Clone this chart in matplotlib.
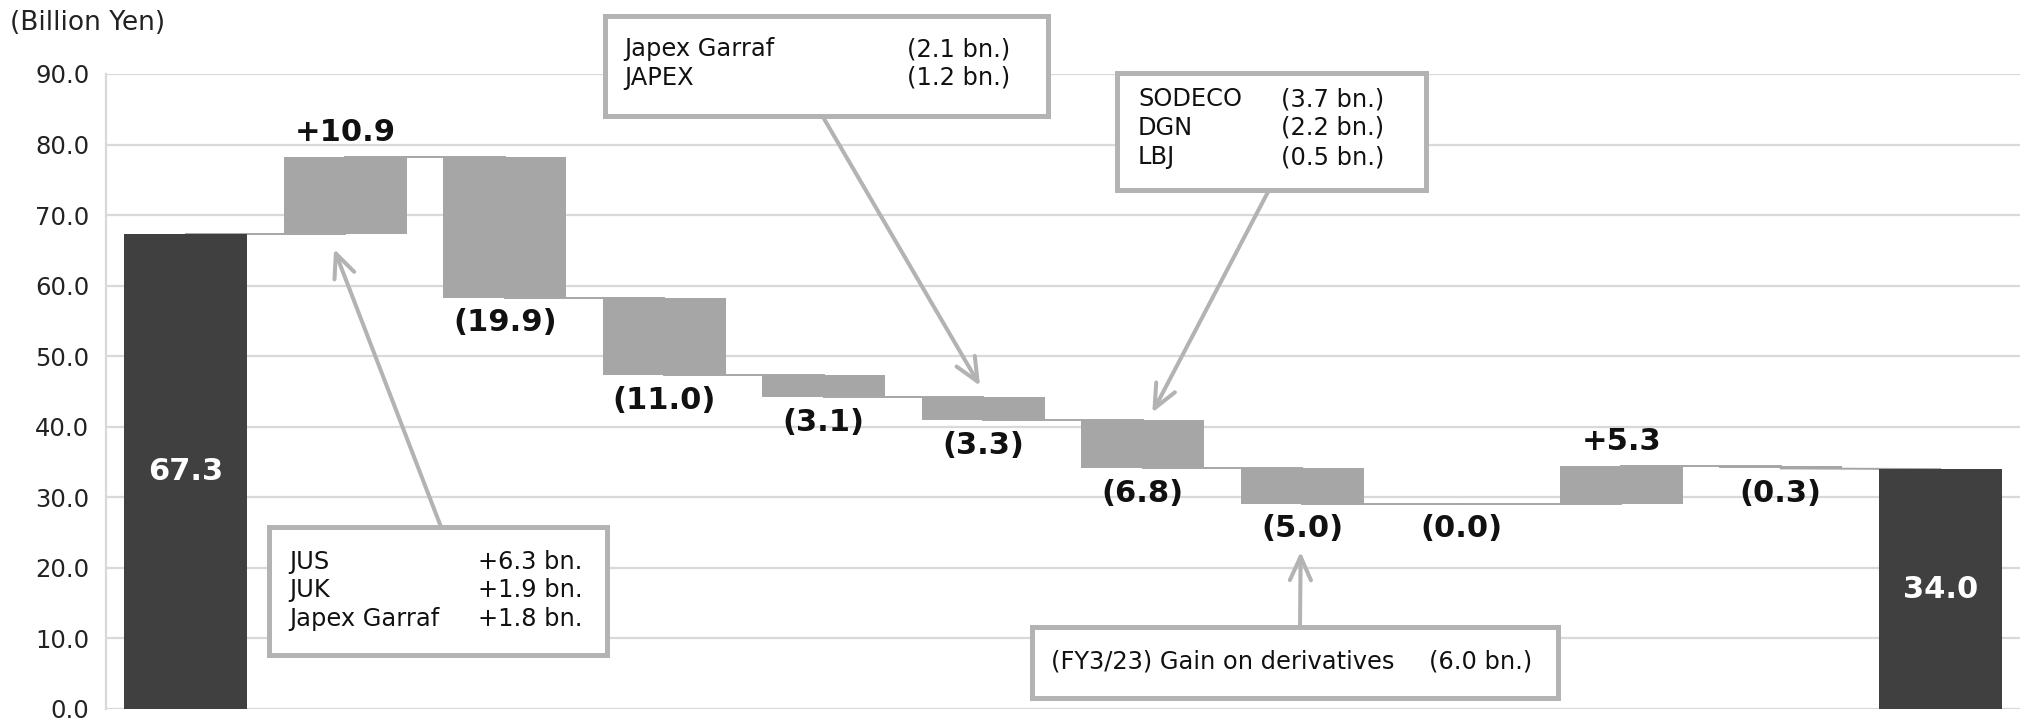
"""
Waterfall of ordinary profit change (billion yen)
"""

import matplotlib.pyplot as plt
from matplotlib.patches import Rectangle
import numpy as np

# data
start_value = 67.3
deltas = [10.9, -19.9, -11.0, -3.1, -3.3, -6.8, -5.0, -0.0, 5.3, -0.3]
end_value = 34.0
y_ticks = [0, 10, 20, 30, 40, 50, 60, 70, 80, 90]

box_jus = [("JUS", "+6.3 bn."), ("JUK", "+1.9 bn."), ("Japex Garraf", "+1.8 bn.")]
box_japex = [("Japex Garraf", "(2.1 bn.)"), ("JAPEX", "(1.2 bn.)")]
box_sodeco = [("SODECO", "(3.7 bn.)"), ("DGN", "(2.2 bn.)"), ("LBJ", "(0.5 bn.)")]
box_deriv = [("(FY3/23) Gain on derivatives", "(6.0 bn.)")]

DARK = "#404040"
GREY = "#a6a6a6"
LINE = "#b3b3b3"
GRID = "#d9d9d9"

W, H = 2035, 720


def fpx(x, y):
    # figure pixels measured from top-left -> figure fraction
    return x / W, 1 - y / H


if __name__ == "__main__":
    n = len(deltas) + 2
    x = np.arange(n)
    levels = np.concatenate([[start_value], start_value + np.cumsum(deltas)])
    bottoms = [0.0]
    heights = [start_value]
    for i, d in enumerate(deltas):
        lo = min(levels[i], levels[i + 1])
        bottoms.append(lo)
        heights.append(abs(d))
    bottoms.append(0.0)
    heights.append(end_value)
    tops = np.array(bottoms) + np.array(heights)
    colors = [DARK] + [GREY] * len(deltas) + [DARK]

    fig = plt.figure(figsize=(W / 100, H / 100), dpi=100)
    ax = fig.add_axes([106 / W, 11 / H, (2020 - 106) / W, (709 - 74) / H])

    ax.set_xlim(-0.5, n - 0.5)
    ax.set_ylim(0, 90)
    ax.set_yticks(y_ticks)
    ax.set_yticklabels([f"{v:.1f}" for v in y_ticks], fontsize=17.5, color="#222222")
    ax.set_xticks([])
    ax.tick_params(axis="y", length=0, pad=12)
    ax.grid(axis="y", color=GRID, linewidth=1.6, zorder=0)
    ax.set_axisbelow(True)
    for s in ["top", "right", "bottom"]:
        ax.spines[s].set_visible(False)
    ax.spines["left"].set_color(GRID)
    ax.spines["left"].set_linewidth(1.6)

    # connectors between consecutive bars
    ends = list(levels) + [end_value]
    for i in range(n - 1):
        y0 = ends[i] if i > 0 else start_value
        y1 = ends[i + 1] if i + 1 == n - 1 else ends[i]
        ax.plot([x[i], x[i + 1]], [y0, y1], color=GREY, lw=1.4, zorder=1)

    ax.bar(x, heights, bottom=bottoms, width=0.77, color=colors, zorder=2)

    # value labels
    ax.text(x[0], start_value / 2, f"{start_value:.1f}", ha="center", va="center",
            color="white", fontsize=22, fontweight="bold", zorder=3)
    ax.text(x[-1], end_value / 2, f"{end_value:.1f}", ha="center", va="center",
            color="white", fontsize=22, fontweight="bold", zorder=3)
    for i, d in enumerate(deltas, start=1):
        if d > 0:
            label, yv, off = f"+{d:.1f}", tops[i], 18
        else:
            label, yv, off = f"({abs(d):.1f})", bottoms[i], -18
        ax.annotate(label, (x[i], yv), xytext=(0, off), textcoords="offset points",
                    ha="center", va="center", fontsize=22, fontweight="bold",
                    color="#111111", zorder=3)

    fig.text(*fpx(10, 23), "(Billion Yen)", fontsize=19, va="center", ha="left",
             color="#222222")

    # callout boxes: (rows, left, top, right, bottom, label x, value x, first row y, row step)
    boxes = [
        (box_jus, 269, 527, 607, 655, 289, 478, 562, 28.3),
        (box_japex, 605, 16, 1048, 116, 624, 907, 49, 28.7),
        (box_sodeco, 1117, 73, 1426, 190, 1138, 1281, 99, 29),
        (box_deriv, 1032, 627, 1558, 698, 1051, 1429, 662, 0),
    ]
    for rows, x0, y0, x1, y1, lx, vx, ry, step in boxes:
        bx, by = fpx(x0, y1)
        fig.add_artist(Rectangle((bx, by), (x1 - x0) / W, (y1 - y0) / H,
                                 transform=fig.transFigure, facecolor="white",
                                 edgecolor=LINE, linewidth=3.6, zorder=5))
        for k, (name, val) in enumerate(rows):
            fig.text(*fpx(lx, ry + k * step), name, fontsize=17.4, va="center",
                     ha="left", color="#111111", zorder=6)
            fig.text(*fpx(vx, ry + k * step), val, fontsize=17.4, va="center",
                     ha="left", color="#111111", zorder=6)

    # arrows from the boxes to the bars they explain
    arrows = [
        ((0.93, 65.2), (441, 527)),
        ((4.98, 45.8), (823, 117)),
        ((6.06, 42.0), (1269, 190)),
        ((6.99, 22.3), (1300, 627)),
    ]
    for tip, (tx, ty) in arrows:
        ax.annotate("", xy=tip, xycoords="data", xytext=(tx, H - ty),
                    textcoords="figure pixels",
                    arrowprops=dict(arrowstyle="->,head_length=0.85,head_width=0.38",
                                    mutation_scale=20, color=LINE, lw=2.9,
                                    shrinkA=0, shrinkB=0),
                    zorder=4, annotation_clip=False)

    fig.savefig("out.png", dpi=100)
